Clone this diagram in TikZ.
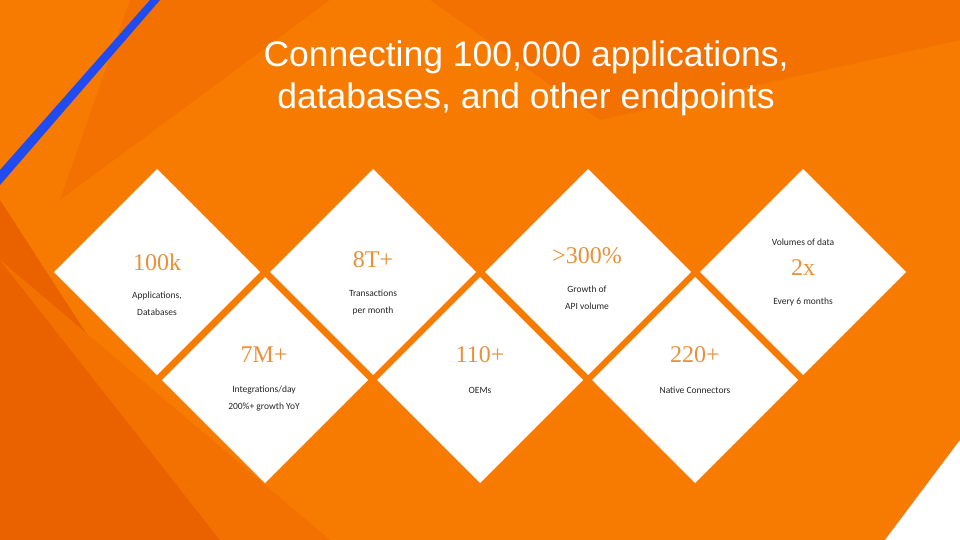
\documentclass[tikz,border=0pt]{standalone}
\usepackage{fontspec}
\setmainfont{Liberation Sans}
\newfontfamily\numfont{Liberation Serif}
\newfontfamily\smallfont{Carlito}
\definecolor{bgor}{HTML}{F77B00}
\definecolor{bgdark}{HTML}{EA6200}
\definecolor{bgmid}{HTML}{F37100}
\definecolor{numor}{HTML}{E8913A}
\definecolor{blu}{HTML}{1F4BF0}
\begin{document}
\begin{tikzpicture}[x=1pt,y=-1pt,
  num/.style={font=\numfont\fontsize{24}{26}\selectfont,text=numor},
  lbl/.style={font=\smallfont\fontsize{9.5}{17}\selectfont,text=black!85,align=center}]
\useasboundingbox (0,0) rectangle (960,540);
\fill[bgor] (0,0) rectangle (960,540);
% facets
\fill[bgdark] (0,200) -- (220,540) -- (0,540) -- cycle;
\fill[bgmid] (0,260) -- (330,540) -- (220,540) -- cycle;
\fill[bgmid] (430,0) -- (960,0) -- (960,40) -- (600,120) -- cycle;
\fill[bgmid] (130,0) -- (330,0) -- (60,200) -- cycle;
\fill[white] (960,440) -- (960,540) -- (885,540) -- cycle;
\fill[blu] (0,170) -- (150,0) -- (160,0) -- (0,185) -- cycle;
% title
\node[font=\fontsize{35.5}{42}\selectfont,text=white,align=center] (title) at (526,78) {Connecting 100,000 applications,\\ databases, and other endpoints};
% diamonds
\def\h{103}
\foreach \n/\cx/\cy in {a/157/272,b/373/272,c/588/272,d/803/272,e/265/380,f/480/380,g/695/380}{
  \fill[white] (\cx,\cy-\h) -- (\cx+\h,\cy) -- (\cx,\cy+\h) -- (\cx-\h,\cy) -- cycle;
  \coordinate (\n) at (\cx,\cy);
}
\node[num] (n1) at (157,262) {100k};
\node[lbl] (l1) at (157,304) {Applications,\\Databases};
\node[num] (n2) at (373,260) {8T+};
\node[lbl] (l2) at (373,302) {Transactions\\per month};
\node[num] (n3) at (587,256) {>300\%};
\node[lbl] (l3) at (587,298) {Growth of\\API volume};
\node[lbl] (l4a) at (803,242) {Volumes of data};
\node[num] (n4) at (803,268) {2x};
\node[lbl] (l4b) at (803,302) {Every 6 months};
\node[num] (n5) at (264,355) {7M+};
\node[lbl] (l5) at (264,399) {Integrations/day\\200\%+ growth YoY};
\node[num] (n6) at (480,355) {110+};
\node[lbl] (l6) at (480,390) {OEMs};
\node[num] (n7) at (695,355) {220+};
\node[lbl] (l7) at (695,390) {Native Connectors};
\end{tikzpicture}
\end{document}
